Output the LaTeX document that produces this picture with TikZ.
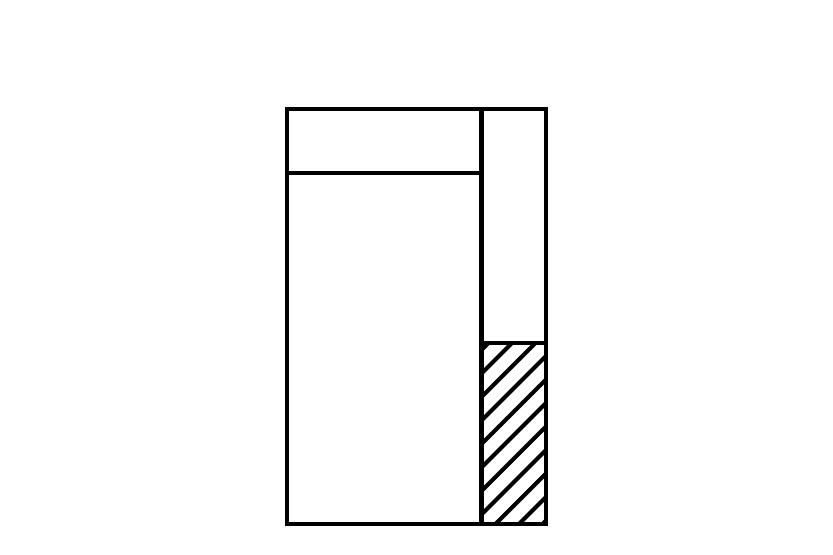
\documentclass[tikz,border=0pt]{standalone}
\usetikzlibrary{calc}

\begin{document}
\begin{tikzpicture}
			%%%%% START %%%%%
			
			\useasboundingbox (0, 0) rectangle (8.33, 5.55);
			
			\begin{scope}
				\clip (4.815, 0.31) rectangle (5.46, 2.12);
				\foreach \i in {0,...,11}
					\draw[line width=0.42mm] ($(4.815, 2.05)+(0, -0.235*\i)$) -- ++(2, 2);
			\end{scope}
			
			\draw[line width=0.45mm] (2.87, 0.31) rectangle (5.46, 4.46);
			\draw[line width=0.45mm] (4.815, 0.31) -- (4.815, 4.46);
			\draw[line width=0.45mm] (2.87, 3.82) -- (4.815, 3.82);
			\draw[line width=0.45mm] (4.815, 2.12) -- (5.46, 2.12);
			
			%%%%% END %%%%%
		\end{tikzpicture}
\end{document}
